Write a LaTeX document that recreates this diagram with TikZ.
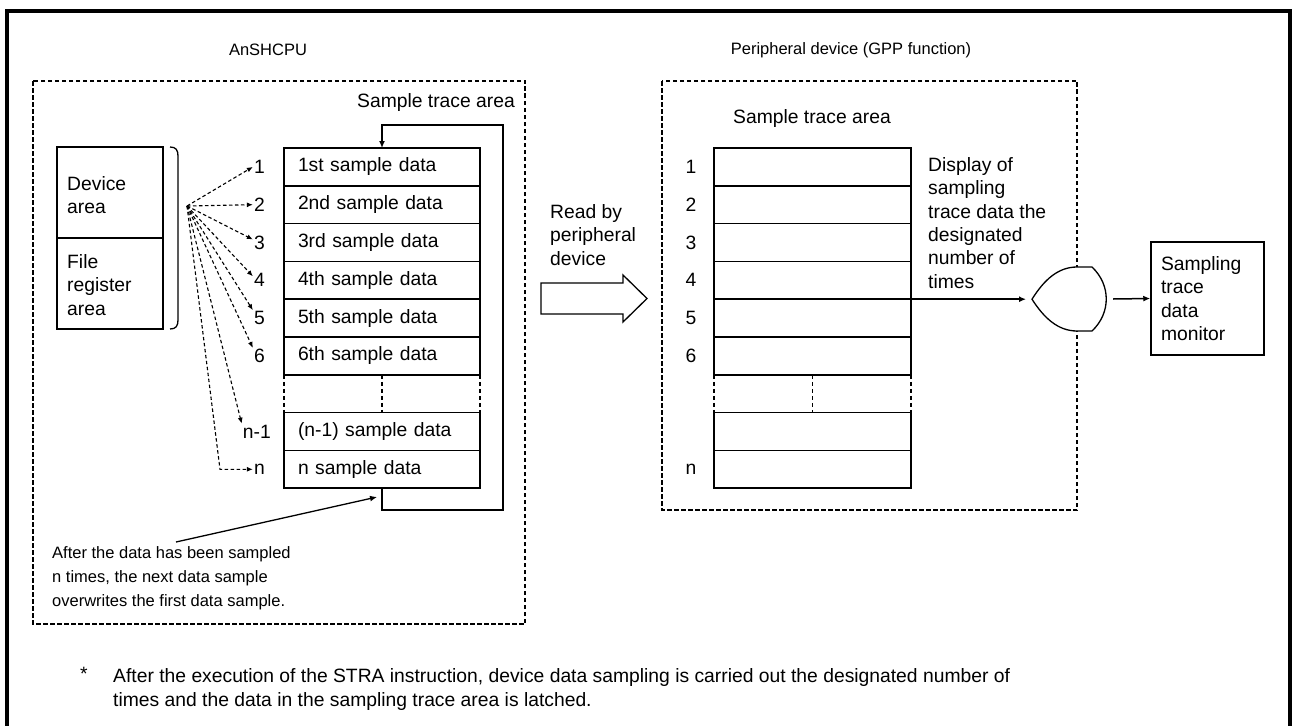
\documentclass[tikz,border=0pt]{standalone}
\usepackage{fontspec}
\setmainfont{Liberation Sans}
\usetikzlibrary{arrows.meta}
\begin{document}
\begin{tikzpicture}[x=1pt,y=-1pt,
  font=\fontsize{19.3}{23.3}\selectfont,
  dframe/.style={line width=1.5pt, dash pattern=on 4.5pt off 2.5pt},
  fanarrow/.style={line width=1.1pt, dash pattern=on 3.5pt off 2.5pt, -{Latex[length=6pt,width=5pt]}},
  arr/.style={line width=1.5pt, -{Latex[length=7pt,width=6pt]}},
  lrow/.style={draw, line width=1.5pt, minimum width=196pt, minimum height=37.8pt,
    text width=168pt, align=left, inner xsep=14pt, inner ysep=0pt, outer sep=0pt},
  rrow/.style={draw, line width=1.5pt, minimum width=197pt, minimum height=37.8pt,
    inner sep=0pt, outer sep=0pt},
  num/.style={inner sep=1pt, anchor=east},
  txt/.style={align=left, inner sep=0pt},
  small/.style={font=\fontsize{16.5}{24}\selectfont}
]
\useasboundingbox (0,0) rectangle (1292,725);
% outer frame
\draw[line width=4pt] (7,735) -- (7,11) -- (1290,11) -- (1290,735);

% titles
\node[small] (t1) at (268,50) {AnSHCPU};
\node[small] (t2) at (851,50) {Peripheral device (GPP function)};

% dashed frames
\draw[dframe] (33,81) rectangle (525,624);
\draw[dframe] (662,81) rectangle (1077,510);

% left: device/file register area
\node[draw, line width=1.5pt, minimum width=106pt, minimum height=91pt, inner sep=0pt, outer sep=0pt] (dev) at (110,192.5) {};
\node[draw, line width=1.5pt, minimum width=106pt, minimum height=91pt, inner sep=0pt, outer sep=0pt] (file) at (110,283.5) {};
\node[txt, anchor=west] (devt) at (67,195) {Device\\area};
\node[txt, anchor=west] (filet) at (67,285) {File\\register\\area};
\draw[line width=1.3pt] (170,147) .. controls (176,147) and (178,150) .. (178,156) -- (178,320)
  .. controls (178,326) and (176,329) .. (170,329);

% left sample trace area
\node (lsta) at (436,103) {Sample trace area};
\node[lrow] (L1) at (382,166.9) {1st sample data};
\node[lrow] (L2) at (382,204.7) {2nd sample data};
\node[lrow] (L3) at (382,242.5) {3rd sample data};
\node[lrow] (L4) at (382,280.3) {4th sample data};
\node[lrow] (L5) at (382,318.1) {5th sample data};
\node[lrow] (L6) at (382,355.9) {6th sample data};
\node[lrow] (Lm) at (382,431.5) {(n-1) sample data};
\node[lrow] (Ln) at (382,469.3) {n sample data};
\draw[dframe] (L6.south west) -- (Lm.north west);
\draw[dframe] (L6.south) -- (Lm.north);
\draw[dframe] (L6.south east) -- (Lm.north east);

% loop
\coordinate (loopBR) at (503,510);
\coordinate (loopTL) at (382,125);
\draw[arr] (Ln.south) |- (loopBR) |- (loopTL) -- (L1.north);

% numbers left
\node[num] (n1) at (266,166.9) {1};
\node[num] (n2) at (266,204.7) {2};
\node[num] (n3) at (266,242.5) {3};
\node[num] (n4) at (266,280.3) {4};
\node[num] (n5) at (266,318.1) {5};
\node[num] (n6) at (266,355.9) {6};
\node[num] (nm) at (272,431.5) {n-1};
\node[num] (nn) at (266,469.3) {n};

% fan of dashed arrows
\coordinate (fan) at (187,206);
\coordinate (ncorner) at (220,469.3);
\draw[fanarrow] (fan) -- (n1.west);
\draw[fanarrow] (fan) -- (n2.west);
\draw[fanarrow] (fan) -- ([yshift=3pt]n3.west);
\draw[fanarrow] (fan) -- ([yshift=4pt]n4.west);
\draw[fanarrow] (fan) -- (n5.north west);
\draw[fanarrow] (fan) -- (n6.north west);
\draw[fanarrow] (fan) -- (nm.north west);
\draw[fanarrow] (fan) -- (ncorner) -- (nn.west);

% annotation
\node[txt, anchor=west, small] (note) at (52,578)
  {After the data has been sampled\\n times, the next data sample\\overwrites the first data sample.};
\coordinate (noteA) at (176,542);
\coordinate (loopTip) at (377,497);
\draw[arr, line width=1.3pt] (noteA) -- (loopTip);

% block arrow
\node[txt, anchor=west] (read) at (550,235) {Read by\\peripheral\\device};
\draw[line width=1.3pt, fill=white] (541,283) -- (623,283) -- (623,275) -- (647,298.5) -- (623,322) -- (623,314) -- (541,314) -- cycle;

% right sample trace area
\node (rsta) at (812,119) {Sample trace area};
\node[rrow] (R1) at (812.5,166.9) {};
\node[rrow] (R2) at (812.5,204.7) {};
\node[rrow] (R3) at (812.5,242.5) {};
\node[rrow] (R4) at (812.5,280.3) {};
\node[rrow] (R5) at (812.5,318.1) {};
\node[rrow] (R6) at (812.5,355.9) {};
\node[rrow] (Rm) at (812.5,431.5) {};
\node[rrow] (Rn) at (812.5,469.3) {};
\draw[dframe] (R6.south west) -- (Rm.north west);
\draw[dframe] (R6.south) -- (Rm.north);
\draw[dframe] (R6.south east) -- (Rm.north east);
\node (r1) at (691,166.9) {1};
\node (r2) at (691,204.7) {2};
\node (r3) at (691,242.5) {3};
\node (r4) at (691,280.3) {4};
\node (r5) at (691,318.1) {5};
\node (r6) at (691,355.9) {6};
\node (rn) at (691,469.3) {n};

\node[txt, anchor=west] (disp) at (928,223) {Display of\\sampling\\trace data the\\designated\\number of\\times};

% gate
\draw[line width=1.3pt, fill=white] (1032,299.2) .. controls (1044,280) and (1058,267) .. (1077,267) -- (1092,267)
  .. controls (1111,285) and (1111,313) .. (1092,331) -- (1077,331)
  .. controls (1058,331) and (1044,318) .. (1032,299.2) -- cycle;
\coordinate (gin) at (1032,299.2);
\coordinate (gout) at (1113,299);
\draw[arr] (R4.south east) -- ([xshift=-6pt]gin);

% monitor
\node[draw, line width=1.5pt, minimum width=113pt, minimum height=113pt, text width=93pt,
  inner xsep=10pt, align=left] (mon) at (1207.5,298.5) {Sampling\\trace\\data\\monitor};
\draw[arr] (gout) -- (mon.west);

% footnote
\node[inner sep=0pt] (star) at (84,674) {*};
\node[txt, anchor=west] (foot) at (113,689.5) {After the execution of the STRA instruction, device data sampling is carried out the designated number of\\times and the data in the sampling trace area is latched.};
\end{tikzpicture}
\end{document}
